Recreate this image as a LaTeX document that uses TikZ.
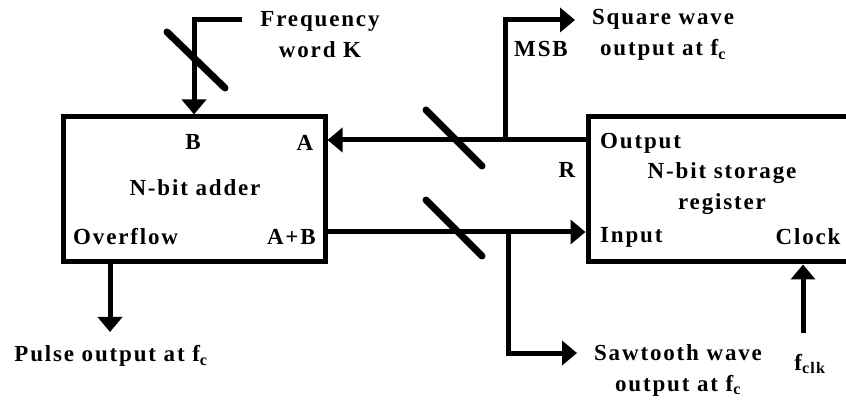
\documentclass[tikz,border=0pt]{standalone}
\usepackage{fontspec}
\setmainfont{Liberation Serif}[LetterSpace=8]
\usetikzlibrary{arrows.meta}

\tikzset{
  block/.style={draw,line width=5pt,inner sep=0pt},
  bus/.style={line width=5pt},
  arr/.style={bus,-{Triangle[width=24pt,length=15pt]}},
  slash/.style={line width=7pt,line cap=round},
  lbl/.style={inner sep=0pt,font=\fontsize{23}{31}\selectfont\bfseries,align=center},
}

\begin{document}
\begin{tikzpicture}[x=1pt,y=-1pt]
\clip (0,0) rectangle (846,403);
% the two blocks
\node[block,minimum width=262pt,minimum height=145pt] (adder) at (194,189.5) {};
\node[block,minimum width=300pt,minimum height=145pt] (reg) at (738,189.5) {};

% taps and free ends
\coordinate (tapA) at (505,140);
\coordinate (tapB) at (508,232);
\coordinate (sq) at (575,20);
\coordinate (saw) at (577,353);
\coordinate (fw) at (242,20);
\coordinate (pulse) at (110,332);
\coordinate (clk) at (803,333);

% phase word into the adder
\draw[arr] (fw) -| (adder.north);
\draw[slash] (196,60) ++(-29,-28) -- ++(58,56);

% feedback R -> A and sum A+B -> register
\draw[arr] (tapA -| reg.west) -- (tapA -| adder.east);
\draw[arr] (tapB -| adder.east) -- (tapB -| reg.west);
\draw[slash] (454,138) ++(-28,-28) -- ++(56,56);
\draw[slash] (454,228) ++(-28,-28) -- ++(56,56);

% outputs
\draw[arr] (tapA) |- (sq);
\draw[arr] (tapB) |- (saw);
\draw[arr] (pulse |- adder.south) -- (pulse);
\draw[arr] (clk) -- (clk |- reg.south);

% adder labels
\node[lbl] (b) at (193,142) {B};
\node[lbl] (a) at (305,143) {A};
\node[lbl] (add) at (195,188) {N-bit adder};
\node[lbl,anchor=west] (ovf) at (73,237) {Overflow};
\node[lbl,anchor=east] (ab) at (316,237) {A+B};

% register labels
\node[lbl,anchor=west] (out) at (600,143) {Output};
\node[lbl] (store) at (722,189) {N-bit storage\\register};
\node[lbl,anchor=west] (in) at (600,237) {Input};
\node[lbl] (clock) at (808,237) {Clock};

% signal labels
\node[lbl] (freq) at (320,35) {Frequency\\word K};
\node[lbl] (msb) at (541,49) {MSB};
\node[lbl] (r) at (567,170) {R};
\node[lbl] (sqr) at (663,35) {Square wave\\output at f\textsubscript{c}};
\node[lbl] (sawt) at (678,370) {Sawtooth wave\\output at f\textsubscript{c}};
\node[lbl] (pls) at (111,356) {Pulse output at f\textsubscript{c}};
\node[lbl] (fclk) at (810,364) {f\textsubscript{clk}};
\end{tikzpicture}
\end{document}
